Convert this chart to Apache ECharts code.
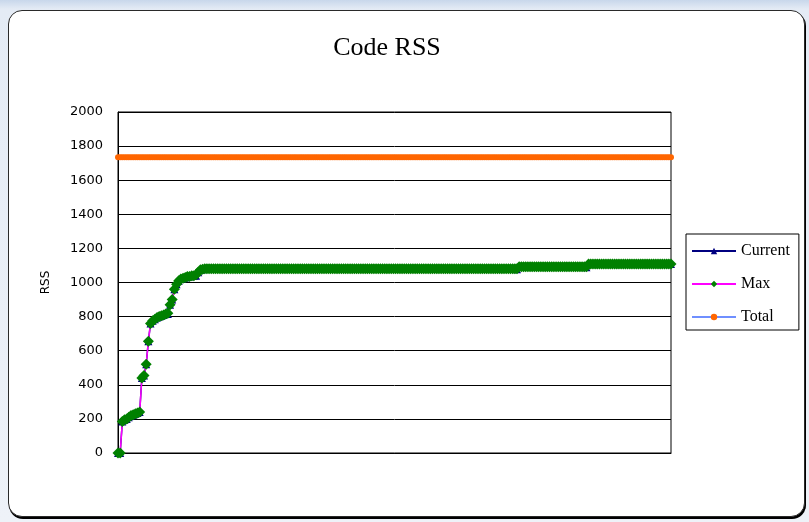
<!DOCTYPE html>
<html>
<head>
<meta charset="utf-8">
<script src="https://cdn.jsdelivr.net/npm/echarts@6/dist/echarts.min.js"></script>
<style>
  html, body { margin: 0; padding: 0; width: 809px; height: 522px; overflow: hidden; }
  body { background: linear-gradient(180deg, #c8d7eb 0px, #e4ebf5 9px, #eef2f8 100%); position: relative; }
  #card {
    position: absolute; left: 8px; top: 10px; width: 795px; height: 505px;
    background: #fff; border: 1.5px solid #2a2a2a; border-radius: 14px;
    box-shadow: 1px 2px 0 #000;
  }
  #chart { position: absolute; left: 0; top: 0; width: 809px; height: 522px; }
</style>
</head>
<body>
<div id="card"></div>
<div id="chart"></div>
<script>
// RSS samples (KB) recorded for the code segment
const currentRss = [
  0,0,185,195,200,210,220,225,230,235,240,440,455,520,655,760,775,785,795,800,
  805,810,815,815,870,900,960,990,1010,1020,1025,1030,1035,1035,1040,1040,1040,1060,1075,1078,
  1080,1080,1080,1080,1080,1080,1080,1080,1080,1080,1080,1080,1080,1080,1080,1080,1080,1080,1080,1080,
  1080,1080,1080,1080,1080,1080,1080,1080,1080,1080,1080,1080,1080,1080,1080,1080,1080,1080,1080,1080,
  1080,1080,1080,1080,1080,1080,1080,1080,1080,1080,1080,1080,1080,1080,1080,1080,1080,1080,1080,1080,
  1080,1080,1080,1080,1080,1080,1080,1080,1080,1080,1080,1080,1080,1080,1080,1080,1080,1080,1080,1080,
  1080,1080,1080,1080,1080,1080,1080,1080,1080,1080,1080,1080,1080,1080,1080,1080,1080,1080,1080,1080,
  1080,1080,1080,1080,1080,1080,1080,1080,1080,1080,1080,1080,1080,1080,1080,1080,1080,1080,1080,1080,
  1080,1080,1080,1080,1080,1080,1080,1080,1080,1080,1080,1080,1080,1080,1080,1080,1080,1080,1080,1080,
  1080,1080,1080,1080,1078,1092,1092,1092,1092,1092,1092,1092,1092,1092,1092,1092,1092,1092,1092,1092,
  1092,1092,1092,1092,1092,1092,1092,1092,1092,1092,1092,1092,1092,1092,1092,1092,1090,1108,1108,1108,
  1108,1108,1108,1108,1108,1108,1108,1108,1108,1108,1108,1108,1108,1108,1108,1108,1108,1108,1108,1108,
  1108,1108,1108,1108,1108,1108,1108,1108,1108,1108,1108,1108,1108,1108,1108,1108
];
const maxRss = [
  0,0,185,195,200,210,220,225,230,235,240,440,455,520,655,760,775,785,795,800,
  805,810,815,820,870,900,960,990,1010,1020,1025,1030,1035,1035,1040,1040,1045,1060,1075,1078,
  1080,1080,1080,1080,1080,1080,1080,1080,1080,1080,1080,1080,1080,1080,1080,1080,1080,1080,1080,1080,
  1080,1080,1080,1080,1080,1080,1080,1080,1080,1080,1080,1080,1080,1080,1080,1080,1080,1080,1080,1080,
  1080,1080,1080,1080,1080,1080,1080,1080,1080,1080,1080,1080,1080,1080,1080,1080,1080,1080,1080,1080,
  1080,1080,1080,1080,1080,1080,1080,1080,1080,1080,1080,1080,1080,1080,1080,1080,1080,1080,1080,1080,
  1080,1080,1080,1080,1080,1080,1080,1080,1080,1080,1080,1080,1080,1080,1080,1080,1080,1080,1080,1080,
  1080,1080,1080,1080,1080,1080,1080,1080,1080,1080,1080,1080,1080,1080,1080,1080,1080,1080,1080,1080,
  1080,1080,1080,1080,1080,1080,1080,1080,1080,1080,1080,1080,1080,1080,1080,1080,1080,1080,1080,1080,
  1080,1080,1080,1080,1080,1092,1092,1092,1092,1092,1092,1092,1092,1092,1092,1092,1092,1092,1092,1092,
  1092,1092,1092,1092,1092,1092,1092,1092,1092,1092,1092,1092,1092,1092,1092,1092,1092,1108,1108,1108,
  1108,1108,1108,1108,1108,1108,1108,1108,1108,1108,1108,1108,1108,1108,1108,1108,1108,1108,1108,1108,
  1108,1108,1108,1108,1108,1108,1108,1108,1108,1108,1108,1108,1108,1108,1108,1108
];
const totalRss = [
  1735,1735,1735,1735,1735,1735,1735,1735,1735,1735,1735,1735,1735,1735,1735,1735,1735,1735,1735,1735,
  1735,1735,1735,1735,1735,1735,1735,1735,1735,1735,1735,1735,1735,1735,1735,1735,1735,1735,1735,1735,
  1735,1735,1735,1735,1735,1735,1735,1735,1735,1735,1735,1735,1735,1735,1735,1735,1735,1735,1735,1735,
  1735,1735,1735,1735,1735,1735,1735,1735,1735,1735,1735,1735,1735,1735,1735,1735,1735,1735,1735,1735,
  1735,1735,1735,1735,1735,1735,1735,1735,1735,1735,1735,1735,1735,1735,1735,1735,1735,1735,1735,1735,
  1735,1735,1735,1735,1735,1735,1735,1735,1735,1735,1735,1735,1735,1735,1735,1735,1735,1735,1735,1735,
  1735,1735,1735,1735,1735,1735,1735,1735,1735,1735,1735,1735,1735,1735,1735,1735,1735,1735,1735,1735,
  1735,1735,1735,1735,1735,1735,1735,1735,1735,1735,1735,1735,1735,1735,1735,1735,1735,1735,1735,1735,
  1735,1735,1735,1735,1735,1735,1735,1735,1735,1735,1735,1735,1735,1735,1735,1735,1735,1735,1735,1735,
  1735,1735,1735,1735,1735,1735,1735,1735,1735,1735,1735,1735,1735,1735,1735,1735,1735,1735,1735,1735,
  1735,1735,1735,1735,1735,1735,1735,1735,1735,1735,1735,1735,1735,1735,1735,1735,1735,1735,1735,1735,
  1735,1735,1735,1735,1735,1735,1735,1735,1735,1735,1735,1735,1735,1735,1735,1735,1735,1735,1735,1735,
  1735,1735,1735,1735,1735,1735,1735,1735,1735,1735,1735,1735,1735,1735,1735,1735
];
const seriesNames = ['Current', 'Max', 'Total'];
const yTicks = { min: 0, max: 2000, interval: 200 };

const chart = echarts.init(document.getElementById('chart'), null, { renderer: 'canvas' });

chart.setOption({
  animation: false,
  backgroundColor: 'transparent',
  title: {
    text: 'Code RSS',
    left: 382, top: 30, textAlign: 'center',
    textStyle: { fontFamily: 'Liberation Serif', fontSize: 26, fontWeight: 'normal', color: '#000' }
  },
  legend: {
    data: seriesNames,
    orient: 'vertical',
    left: 686, top: 234,
    padding: [9, 9, 5, 5],
    itemWidth: 44, itemHeight: 8, itemGap: 17,
    borderColor: '#000', borderWidth: 1,
    backgroundColor: '#fff',
    textStyle: { fontFamily: 'Liberation Serif', fontSize: 16, lineHeight: 16, color: '#000' }
  },
  grid: {
    left: 118, right: 138, top: 112, bottom: 69,
    show: true, borderColor: '#000', borderWidth: 1, backgroundColor: '#fff'
  },
  xAxis: {
    type: 'category',
    boundaryGap: false,
    axisLine: { lineStyle: { color: '#000', width: 1 } },
    axisTick: { show: false },
    axisLabel: { show: false },
    splitLine: { show: false }
  },
  yAxis: {
    type: 'value',
    min: yTicks.min, max: yTicks.max, interval: yTicks.interval,
    name: 'RSS',
    nameLocation: 'middle',
    nameRotate: 90,
    nameGap: 66,
    nameTextStyle: { fontFamily: 'DejaVu Sans', fontSize: 12, color: '#000' },
    axisLine: { show: true, lineStyle: { color: '#000', width: 1 } },
    axisTick: { show: false },
    axisLabel: {
      margin: 15, fontFamily: 'DejaVu Sans', fontSize: 13, color: '#000',
      formatter: (v) => String(v)
    },
    splitLine: { lineStyle: { color: '#000', width: 1 } }
  },
  series: [
    {
      name: 'Current', type: 'line', data: currentRss,
      showSymbol: true, showAllSymbol: true,
      symbol: 'triangle', symbolSize: 8,
      lineStyle: { color: '#000080', width: 1.5 },
      itemStyle: { color: '#000080' }
    },
    {
      name: 'Max', type: 'line', data: maxRss,
      showSymbol: true, showAllSymbol: true,
      symbol: 'diamond', symbolSize: 11,
      lineStyle: { color: '#ff00ff', width: 1.5 },
      itemStyle: { color: '#008000' }
    },
    {
      name: 'Total', type: 'line', data: totalRss,
      showSymbol: true, showAllSymbol: true,
      symbol: 'circle', symbolSize: 6,
      lineStyle: { color: '#6f8fff', width: 1.5 },
      itemStyle: { color: '#ff6600' }
    }
  ]
});
</script>
</body>
</html>
